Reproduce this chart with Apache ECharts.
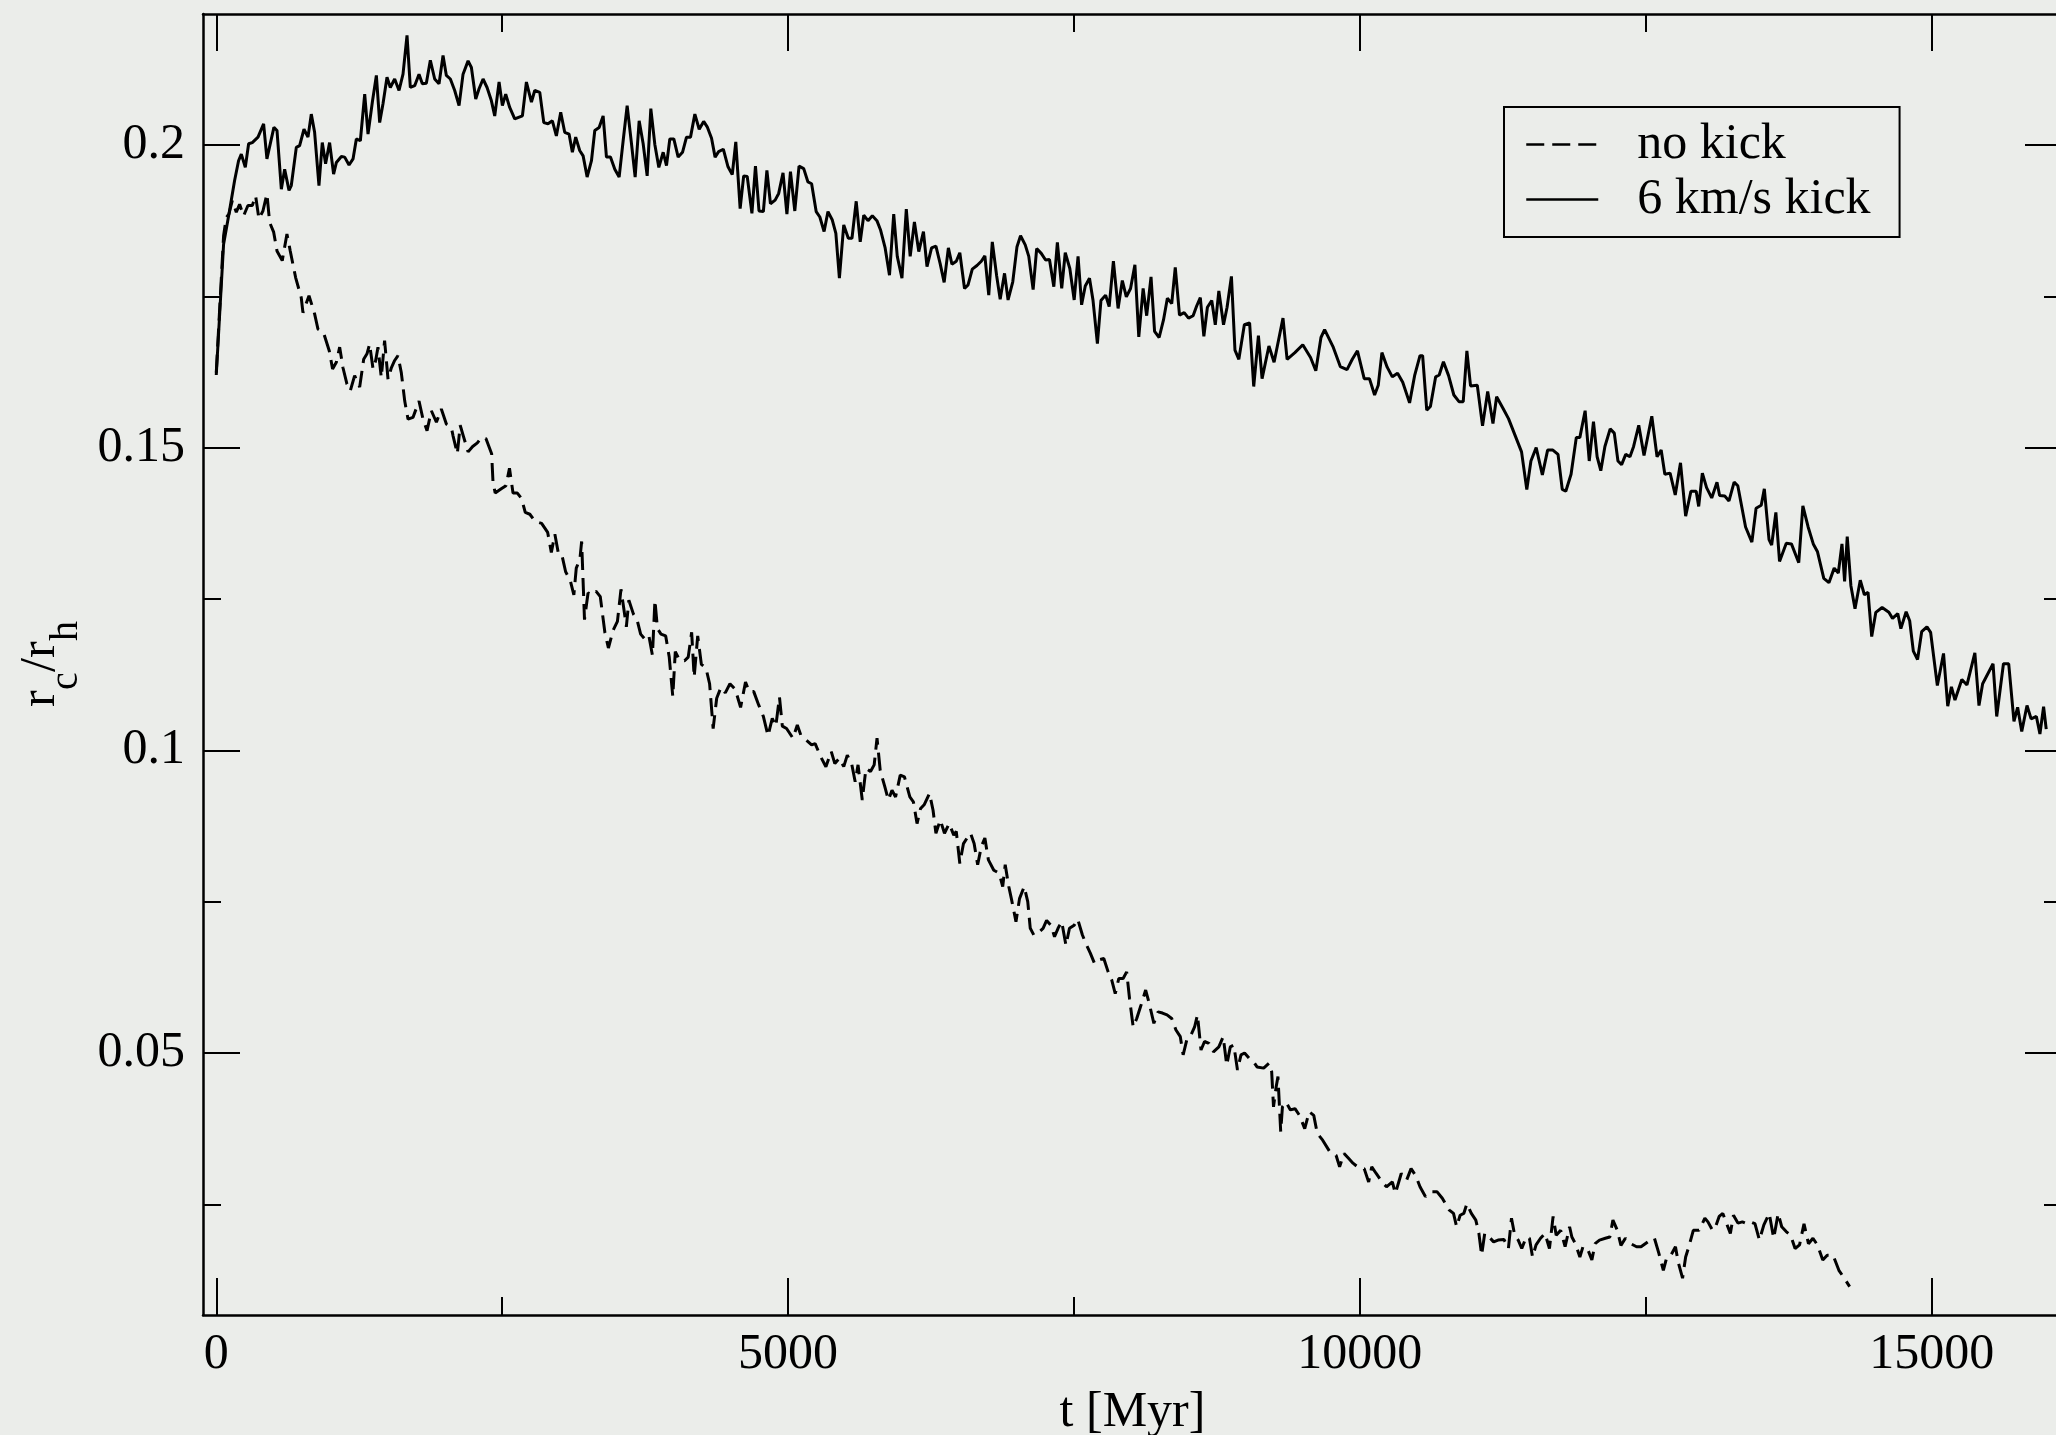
<!DOCTYPE html>
<html>
<head>
<meta charset="utf-8">
<script src="https://cdn.jsdelivr.net/npm/echarts@6/dist/echarts.min.js"></script>
<style>
html,body{margin:0;padding:0;background:#ebedea;}
#chart{width:2056px;height:1435px;}
</style>
</head>
<body>
<div id="chart"></div>
<script>
// ---------------- data (t [Myr], r_c/r_h) ----------------
const seriesNames = ['no kick', '6 km/s kick'];

const kickPoints = [
[0,0.162],[64,0.1836],[111,0.1886],[160,0.1941],[195,0.1974],[219,0.1985],[254,0.1963],[283,0.2002],[315,0.2004],[365,0.2013],
[414,0.2035],[443,0.1977],[504,0.2029],[531,0.2024],[569,0.1927],[598,0.196],[636,0.1925],[656,0.1933],[700,0.1996],[729,0.1999],
[767,0.2026],[802,0.2013],[831,0.2051],[860,0.2021],[898,0.1933],[927,0.2004],[956,0.1969],[991,0.2004],[1026,0.1952],[1050,0.1971],
[1094,0.1981],[1123,0.198],[1161,0.1967],[1196,0.1977],[1225,0.201],[1260,0.2007],[1298,0.2084],[1327,0.2018],[1365,0.2071],[1400,0.2115],
[1429,0.2037],[1458,0.2068],[1493,0.2112],[1522,0.2095],[1560,0.2109],[1598,0.209],[1633,0.2117],[1668,0.2181],[1697,0.2095],[1735,0.2098],
[1773,0.2117],[1802,0.2101],[1837,0.2102],[1872,0.214],[1910,0.2109],[1948,0.2101],[1983,0.2148],[2012,0.2115],[2047,0.2109],[2085,0.209],
[2123,0.2065],[2158,0.2117],[2202,0.2139],[2231,0.2128],[2269,0.2076],[2298,0.2093],[2333,0.2109],[2368,0.2095],[2406,0.2073],[2435,0.2048],
[2473,0.2104],[2502,0.2065],[2531,0.2084],[2566,0.2062],[2610,0.2043],[2677,0.2048],[2712,0.2104],[2756,0.2071],[2785,0.209],[2829,0.2087],
[2864,0.2037],[2901,0.2035],[2939,0.204],[2974,0.2015],[3012,0.2054],[3047,0.2021],[3085,0.2018],[3114,0.1988],[3143,0.2013],[3178,0.1991],
[3208,0.1982],[3243,0.1947],[3281,0.1974],[3310,0.2024],[3348,0.2029],[3383,0.2048],[3412,0.198],[3447,0.198],[3485,0.196],[3523,0.1947],
[3558,0.2007],[3593,0.2065],[3631,0.2002],[3663,0.1947],[3698,0.204],[3733,0.2002],[3768,0.1949],[3800,0.206],[3835,0.2001],[3870,0.1963],
[3908,0.1988],[3937,0.1966],[3966,0.201],[4001,0.201],[4039,0.198],[4077,0.1988],[4112,0.2013],[4147,0.2013],[4185,0.2051],[4223,0.2026],
[4262,0.2039],[4293,0.203],[4331,0.2011],[4362,0.198],[4393,0.1989],[4434,0.1993],[4475,0.1964],[4512,0.1951],[4543,0.2005],[4581,0.1895],
[4612,0.1949],[4643,0.1948],[4684,0.1887],[4715,0.1965],[4746,0.1891],[4784,0.189],[4815,0.1958],[4846,0.1903],[4887,0.1909],[4918,0.192],
[4956,0.1954],[4990,0.1886],[5021,0.1956],[5059,0.1891],[5096,0.1965],[5137,0.1961],[5174,0.1939],[5206,0.1936],[5246,0.189],[5278,0.1881],
[5315,0.1857],[5349,0.189],[5387,0.1876],[5418,0.1854],[5449,0.178],[5487,0.1868],[5527,0.1846],[5559,0.1846],[5596,0.1907],[5631,0.184],
[5662,0.1884],[5699,0.1875],[5737,0.1883],[5777,0.1875],[5808,0.186],[5849,0.183],[5887,0.1785],[5924,0.1886],[5955,0.1816],[5996,0.178],
[6034,0.1894],[6068,0.1816],[6105,0.1873],[6143,0.1824],[6184,0.1857],[6215,0.1799],[6255,0.183],[6293,0.1833],[6330,0.1804],[6365,0.1773],
[6402,0.183],[6433,0.1803],[6471,0.1808],[6502,0.1822],[6543,0.1763],[6574,0.1769],[6611,0.1795],[6652,0.1801],[6690,0.1808],[6721,0.1817],
[6755,0.1752],[6786,0.184],[6824,0.1784],[6855,0.1745],[6893,0.1788],[6924,0.1744],[6965,0.1774],[7002,0.1832],[7033,0.185],[7074,0.1835],
[7105,0.1816],[7143,0.1761],[7174,0.1829],[7214,0.1821],[7252,0.181],[7286,0.1811],[7324,0.1766],[7355,0.1839],[7393,0.1763],[7424,0.1822],
[7464,0.1796],[7502,0.1744],[7536,0.1816],[7567,0.1736],[7599,0.1767],[7636,0.178],[7667,0.1743],[7705,0.1672],[7736,0.1743],[7777,0.1752],
[7808,0.1733],[7845,0.1808],[7886,0.173],[7923,0.1776],[7958,0.1749],[7995,0.1763],[8033,0.1802],[8067,0.1683],[8105,0.1763],[8136,0.1718],
[8174,0.1782],[8205,0.1692],[8245,0.1682],[8283,0.1711],[8317,0.1747],[8355,0.1738],[8386,0.1798],[8423,0.1719],[8464,0.1723],[8502,0.1714],
[8542,0.1718],[8573,0.1734],[8605,0.1748],[8636,0.1684],[8667,0.1732],[8705,0.1743],[8736,0.1703],[8767,0.1759],[8808,0.1703],[8839,0.1732],
[8877,0.1783],[8908,0.1661],[8942,0.1646],[8990,0.1703],[9036,0.1706],[9072,0.1601],[9113,0.1685],[9145,0.1614],[9205,0.1668],[9250,0.1641],
[9328,0.1714],[9364,0.1646],[9432,0.1657],[9501,0.167],[9569,0.1649],[9615,0.1627],[9660,0.1682],[9692,0.1695],[9765,0.1667],[9829,0.1634],
[9888,0.1629],[9934,0.1646],[9979,0.166],[10038,0.1614],[10084,0.1614],[10129,0.1587],[10161,0.1603],[10193,0.1657],[10239,0.1633],[10284,0.1617],
[10330,0.1623],[10375,0.1608],[10435,0.1574],[10480,0.162],[10526,0.1652],[10549,0.1652],[10585,0.1562],[10617,0.1568],[10663,0.1617],[10694,0.162],
[10731,0.1642],[10776,0.1619],[10822,0.1587],[10867,0.1576],[10904,0.1576],[10936,0.166],[10968,0.1602],[11027,0.1603],[11073,0.1536],[11118,0.1593],
[11164,0.154],[11196,0.1584],[11255,0.1564],[11300,0.1548],[11360,0.1519],[11414,0.1493],[11460,0.1431],[11496,0.1478],[11542,0.15],[11596,0.1455],
[11642,0.1496],[11688,0.1496],[11733,0.1489],[11770,0.1431],[11801,0.1428],[11847,0.1456],[11893,0.1517],[11924,0.1517],[11970,0.1561],[12006,0.1478],
[12043,0.1543],[12075,0.1485],[12107,0.1462],[12143,0.1502],[12189,0.1531],[12225,0.1524],[12257,0.1478],[12289,0.1472],[12325,0.1489],[12362,0.1485],
[12394,0.1502],[12439,0.1537],[12485,0.1487],[12553,0.1552],[12599,0.1485],[12635,0.1496],[12667,0.1456],[12713,0.1458],[12758,0.1422],[12804,0.1475],
[12849,0.1387],[12895,0.1428],[12941,0.1428],[12963,0.1403],[12995,0.1458],[13032,0.1434],[13077,0.1417],[13123,0.1443],[13146,0.1421],[13191,0.142],
[13228,0.1412],[13273,0.1443],[13305,0.1437],[13373,0.1369],[13428,0.1344],[13465,0.14],[13510,0.1405],[13537,0.1432],[13578,0.1348],[13601,0.1339],
[13638,0.1393],[13670,0.1312],[13729,0.1342],[13774,0.1341],[13838,0.131],[13874,0.1404],[13920,0.1369],[13965,0.1341],[14002,0.1328],[14057,0.1284],
[14102,0.1277],[14148,0.1301],[14184,0.1293],[14216,0.1341],[14239,0.1279],[14262,0.1353],[14294,0.1272],[14330,0.1234],[14376,0.1281],[14412,0.1257],
[14444,0.1261],[14476,0.1188],[14512,0.1228],[14567,0.1236],[14626,0.1228],[14658,0.1218],[14704,0.1226],[14731,0.1201],[14777,0.1229],[14808,0.1214],
[14840,0.1164],[14877,0.115],[14913,0.1196],[14959,0.1204],[14991,0.1195],[15050,0.1107],[15104,0.116],[15141,0.1073],[15173,0.1105],[15204,0.1083],
[15264,0.1117],[15309,0.1108],[15378,0.1161],[15414,0.1074],[15446,0.111],[15537,0.1143],[15569,0.1056],[15628,0.1143],[15674,0.1143],[15720,0.1048],
[15752,0.1071],[15788,0.1031],[15834,0.1074],[15870,0.1052],[15916,0.1056],[15947,0.1027],[15979,0.1072],[16002,0.1035]
];

const noKickPoints = [
[0,0.1624],[64,0.185],[87,0.188],[111,0.1886],[140,0.1908],[175,0.1889],[204,0.1902],[239,0.1883],[277,0.19],[315,0.19],
[344,0.1916],[373,0.1878],[408,0.1891],[443,0.1919],[467,0.1872],[502,0.1856],[531,0.1825],[577,0.1809],[618,0.1853],[647,0.1825],
[694,0.1781],[743,0.1748],[758,0.1723],[811,0.1751],[860,0.1721],[889,0.1696],[938,0.169],[988,0.166],[1017,0.163],[1050,0.1641],
[1079,0.1666],[1108,0.1632],[1143,0.1605],[1172,0.1594],[1210,0.1619],[1254,0.16],[1289,0.1646],[1318,0.1655],[1341,0.1671],[1371,0.163],
[1394,0.1644],[1414,0.1666],[1443,0.1616],[1472,0.1677],[1502,0.1613],[1531,0.1632],[1560,0.1644],[1589,0.1652],[1618,0.1624],[1648,0.1577],
[1677,0.1547],[1720,0.155],[1773,0.1577],[1808,0.1547],[1843,0.1528],[1881,0.1561],[1925,0.1542],[1968,0.1564],[2012,0.1539],[2056,0.1533],
[2070,0.152],[2108,0.149],[2133,0.1537],[2164,0.1517],[2202,0.1493],[2242,0.1502],[2283,0.1508],[2320,0.1517],[2358,0.1515],[2408,0.149],
[2420,0.1443],[2439,0.1425],[2492,0.1432],[2533,0.1437],[2564,0.1466],[2595,0.1425],[2633,0.1425],[2670,0.1416],[2702,0.1393],[2742,0.139],
[2789,0.1378],[2845,0.1375],[2898,0.136],[2930,0.1327],[2961,0.1357],[2992,0.1325],[3023,0.1322],[3055,0.1295],[3095,0.1281],[3127,0.1257],
[3148,0.1301],[3180,0.1316],[3195,0.1345],[3220,0.1216],[3251,0.126],[3283,0.1257],[3320,0.1263],[3358,0.1254],[3398,0.1195],[3429,0.1169],
[3470,0.1198],[3508,0.1213],[3539,0.1266],[3564,0.1234],[3586,0.1204],[3608,0.1248],[3648,0.1225],[3679,0.1216],[3711,0.1192],[3751,0.1183],
[3783,0.1189],[3814,0.1157],[3836,0.1248],[3858,0.1201],[3889,0.1192],[3930,0.1189],[3961,0.1154],[3992,0.1089],[4014,0.1163],[4054,0.1148],
[4095,0.1148],[4127,0.1154],[4157,0.1195],[4179,0.1121],[4210,0.1189],[4242,0.1142],[4282,0.1136],[4314,0.111],[4345,0.1036],[4376,0.1086],
[4413,0.1104],[4451,0.1095],[4492,0.111],[4538,0.1101],[4585,0.1071],[4628,0.1113],[4659,0.1097],[4700,0.1097],[4743,0.1075],[4784,0.1056],
[4825,0.1024],[4862,0.1053],[4893,0.104],[4925,0.1088],[4950,0.104],[4987,0.1036],[5043,0.102],[5081,0.1042],[5112,0.1025],[5159,0.1017],
[5206,0.1009],[5237,0.1011],[5284,0.099],[5331,0.0973],[5378,0.0998],[5409,0.0978],[5449,0.0987],[5487,0.0973],[5518,0.0992],[5556,0.0978],
[5587,0.0948],[5612,0.0976],[5649,0.0918],[5681,0.097],[5721,0.0965],[5753,0.0976],[5778,0.102],[5806,0.0967],[5846,0.094],[5877,0.0918],
[5909,0.0934],[5940,0.0923],[5981,0.0959],[6018,0.0956],[6065,0.0923],[6096,0.0915],[6128,0.0879],[6159,0.0904],[6190,0.091],[6237,0.0929],
[6268,0.0901],[6293,0.0863],[6331,0.0885],[6368,0.0863],[6409,0.0879],[6449,0.086],[6471,0.0866],[6502,0.0813],[6534,0.0846],[6565,0.0855],
[6596,0.0863],[6627,0.0846],[6658,0.0811],[6690,0.0841],[6721,0.0855],[6752,0.0819],[6799,0.0802],[6846,0.0797],[6877,0.0775],[6899,0.0811],
[6930,0.0775],[6955,0.0753],[6993,0.0717],[7024,0.0755],[7065,0.0775],[7096,0.075],[7118,0.0706],[7149,0.0695],[7190,0.0699],[7230,0.0706],
[7261,0.0719],[7299,0.0711],[7330,0.0692],[7361,0.0706],[7393,0.0717],[7430,0.0678],[7461,0.0706],[7502,0.0711],[7533,0.0721],[7574,0.0695],
[7611,0.0678],[7643,0.0665],[7680,0.0648],[7711,0.0654],[7761,0.0656],[7799,0.0634],[7830,0.0621],[7861,0.0598],[7892,0.0623],[7930,0.0623],
[7961,0.0634],[7986,0.059],[8018,0.0543],[8049,0.0557],[8086,0.0579],[8127,0.0604],[8158,0.0582],[8199,0.0549],[8236,0.0568],[8274,0.0566],
[8314,0.0563],[8355,0.0557],[8392,0.0538],[8430,0.0527],[8455,0.0497],[8486,0.0521],[8517,0.0527],[8555,0.0543],[8580,0.0563],[8611,0.0505],
[8642,0.0519],[8680,0.0516],[8720,0.0502],[8767,0.051],[8805,0.0527],[8836,0.048],[8867,0.051],[8898,0.0513],[8930,0.0472],[8961,0.0497],
[8992,0.05],[9033,0.0491],[9062,0.0488],[9101,0.0477],[9159,0.0475],[9206,0.0483],[9229,0.0469],[9245,0.0411],[9268,0.0444],[9284,0.0461],
[9308,0.037],[9323,0.0411],[9354,0.0419],[9393,0.0406],[9433,0.0408],[9472,0.0397],[9518,0.0375],[9557,0.0403],[9597,0.0397],[9628,0.0367],
[9675,0.0356],[9737,0.0337],[9792,0.0331],[9823,0.0312],[9862,0.0334],[9901,0.0326],[9940,0.0318],[9979,0.0312],[10038,0.0309],[10077,0.0287],
[10104,0.0312],[10143,0.0301],[10194,0.0287],[10233,0.0279],[10284,0.0287],[10311,0.0268],[10362,0.0301],[10409,0.029],[10448,0.0309],[10487,0.0298],
[10526,0.0279],[10573,0.0263],[10624,0.0271],[10674,0.0271],[10721,0.026],[10780,0.0241],[10819,0.0235],[10846,0.0213],[10877,0.0232],[10909,0.0235],
[10936,0.0251],[10975,0.0235],[11014,0.0224],[11041,0.0202],[11065,0.0166],[11092,0.0202],[11131,0.0196],[11170,0.0188],[11209,0.0191],[11260,0.0192],
[11299,0.0177],[11326,0.0227],[11354,0.0199],[11385,0.0191],[11416,0.0177],[11455,0.0196],[11483,0.0194],[11510,0.0163],[11541,0.0183],[11580,0.0194],
[11619,0.0202],[11658,0.0177],[11690,0.023],[11717,0.0199],[11756,0.0207],[11795,0.018],[11834,0.0213],[11854,0.0196],[11885,0.0185],[11924,0.0163],
[11951,0.018],[11990,0.0177],[12029,0.0158],[12057,0.0185],[12096,0.0191],[12147,0.0194],[12186,0.0196],[12213,0.0224],[12252,0.0207],[12283,0.0182],
[12322,0.0194],[12369,0.0185],[12420,0.018],[12459,0.018],[12518,0.0188],[12576,0.0194],[12615,0.0169],[12654,0.0141],[12682,0.0161],[12720,0.0166],
[12760,0.018],[12783,0.0155],[12822,0.0128],[12849,0.0163],[12877,0.018],[12916,0.0207],[12966,0.0207],[13017,0.0227],[13044,0.0221],[13084,0.0207],
[13111,0.0213],[13142,0.023],[13174,0.0235],[13201,0.0221],[13240,0.0202],[13267,0.0232],[13306,0.0219],[13345,0.0221],[13385,0.0218],[13416,0.0221],
[13455,0.0218],[13494,0.0191],[13533,0.0216],[13580,0.0235],[13619,0.0194],[13658,0.0235],[13689,0.0213],[13728,0.0205],[13767,0.0199],[13806,0.0177],
[13845,0.0183],[13884,0.0218],[13923,0.0185],[13962,0.0194],[14001,0.0183],[14048,0.0158],[14087,0.0166],[14138,0.0166],[14189,0.0141],[14236,0.0128],
[14283,0.0114]
];

const xMajorTicks = [0, 5000, 10000, 15000];
const xMinorTicks = [2500, 7500, 12500];
const yMajorTicks = [0.05, 0.1, 0.15, 0.2];
const yMinorTicks = [0.025, 0.075, 0.125, 0.175];
const xRange = [-116, 16140];
const yRange = [0.00672, 0.22164];
const xTitle = 't [Myr]';

// ---------------- chart ----------------
const FONT = 'Liberation Serif';
const BLACK = '#000';

function xAx(pos, ticks, len, main) {
  return {
    type: 'value', position: pos, min: xRange[0], max: xRange[1],
    axisLine: { show: main, onZero: false, lineStyle: { color: BLACK, width: 2.5 } },
    axisTick: { show: true, inside: true, length: len, customValues: ticks, lineStyle: { color: BLACK, width: 2 } },
    axisLabel: { show: main && pos === 'bottom', customValues: ticks, formatter: v => String(v),
      fontFamily: FONT, fontSize: 50, color: BLACK, margin: 15 },
    splitLine: { show: false }, minorTick: { show: false }
  };
}
function yAx(pos, ticks, len, main) {
  return {
    type: 'value', position: pos, min: yRange[0], max: yRange[1],
    axisLine: { show: main, onZero: false, lineStyle: { color: BLACK, width: 2.5 } },
    axisTick: { show: true, inside: true, length: len, customValues: ticks, lineStyle: { color: BLACK, width: 2 } },
    axisLabel: { show: main && pos === 'left', customValues: ticks, formatter: v => String(v),
      fontFamily: FONT, fontSize: 50, color: BLACK, margin: 18 },
    splitLine: { show: false }, minorTick: { show: false }
  };
}

const xBottom = xAx('bottom', xMajorTicks, 37, true);
xBottom.name = xTitle;
xBottom.nameLocation = 'middle';
xBottom.nameGap = 73;
xBottom.nameMoveOverlap = false;
xBottom.nameTextStyle = { fontFamily: FONT, fontSize: 50, color: BLACK };

const chart = echarts.init(document.getElementById('chart'), null, { renderer: 'canvas' });
chart.setOption({
  backgroundColor: '#ebedea',
  animation: false,
  grid: { left: 203, top: 14, width: 1859, height: 1301, containLabel: false, outerBoundsMode: 'none' },
  xAxis: [
    xBottom,
    xAx('top', xMajorTicks, 37, true),
    xAx('bottom', xMinorTicks, 18, false),
    xAx('top', xMinorTicks, 18, false)
  ],
  yAxis: [
    yAx('left', yMajorTicks, 37, true),
    yAx('right', yMajorTicks, 37, true),
    yAx('left', yMinorTicks, 18, false),
    yAx('right', yMinorTicks, 18, false)
  ],
  legend: {
    show: true, orient: 'vertical', left: 1504, top: 107,
    data: seriesNames,
    itemWidth: 72, itemHeight: 14, itemGap: 0,
    padding: [10, 29, 10, 21],
    borderColor: BLACK, borderWidth: 2, backgroundColor: 'transparent',
    selectedMode: false,
    itemStyle: { opacity: 0, borderWidth: 0 },
    lineStyle: { width: 2.5, color: BLACK },
    textStyle: { fontFamily: FONT, fontSize: 50, color: BLACK, lineHeight: 55, padding: [0, 0, 0, 34] }
  },
  graphic: [{
    type: 'group', x: 56, y: 707, rotation: Math.PI / 2, silent: true,
    children: [
      { type: 'text', x: 0, y: -15, style: { text: 'r', fontFamily: FONT, fontSize: 50, fill: BLACK, verticalAlign: 'middle', align: 'left' } },
      { type: 'text', x: 17, y: 10, style: { text: 'c', fontFamily: FONT, fontSize: 40, fill: BLACK, verticalAlign: 'middle', align: 'left' } },
      { type: 'text', x: 35, y: -15, style: { text: '/', fontFamily: FONT, fontSize: 50, fill: BLACK, verticalAlign: 'middle', align: 'left' } },
      { type: 'text', x: 49, y: -15, style: { text: 'r', fontFamily: FONT, fontSize: 50, fill: BLACK, verticalAlign: 'middle', align: 'left' } },
      { type: 'text', x: 66, y: 10, style: { text: 'h', fontFamily: FONT, fontSize: 40, fill: BLACK, verticalAlign: 'middle', align: 'left' } }
    ]
  }],
  series: [
    {
      name: seriesNames[0], type: 'line', xAxisIndex: 0, yAxisIndex: 0,
      data: noKickPoints, symbol: 'none', showSymbol: false, smooth: false,
      lineStyle: { color: BLACK, width: 3, type: [18, 8] },
      itemStyle: { color: BLACK }, silent: true, z: 3
    },
    {
      name: seriesNames[1], type: 'line', xAxisIndex: 0, yAxisIndex: 0,
      data: kickPoints, symbol: 'none', showSymbol: false, smooth: false,
      lineStyle: { color: BLACK, width: 3, type: 'solid' },
      itemStyle: { color: BLACK }, silent: true, z: 3
    }
  ]
});
</script>
</body>
</html>
